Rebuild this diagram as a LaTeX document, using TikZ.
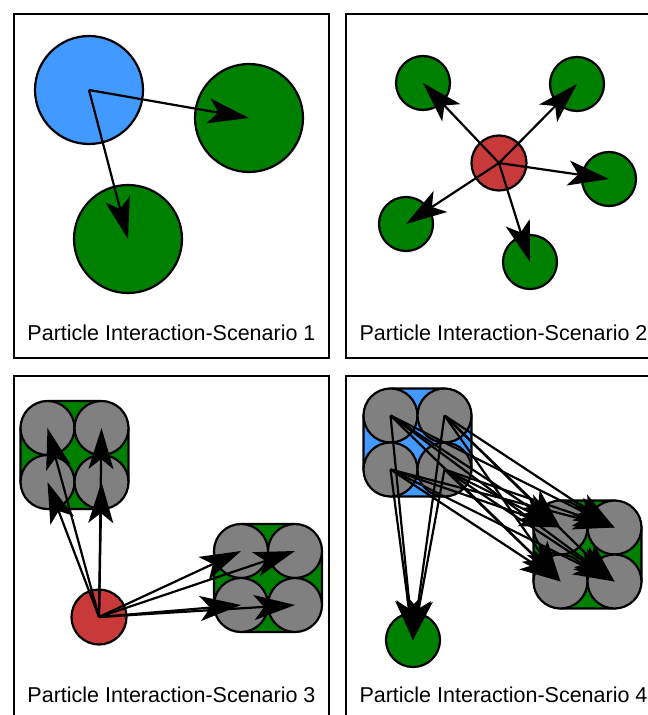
\documentclass[tikz,border=0pt]{standalone}
\usepackage{fontspec}
\setmainfont{Liberation Sans}
\usepackage{tikz}
\usetikzlibrary{arrows.meta}

\definecolor{pblue}{RGB}{66,153,255}
\definecolor{pgreen}{RGB}{0,128,0}
\definecolor{pred}{RGB}{200,58,58}
\definecolor{pgrey}{RGB}{128,128,128}

\tikzset{
  ball/.style={circle, draw, line width=2.2pt, inner sep=0pt},
  bigball/.style={ball, minimum size=108pt},
  smallball/.style={ball, minimum size=54pt},
  blob/.style={draw, line width=2.2pt, rounded corners=30pt, minimum size=108pt, inner sep=0pt},
  hit/.style={-{Stealth[length=41pt,width=25pt,inset=10pt]}, line width=2.2pt},
  frame/.style={line width=2.2pt},
  caption/.style={font=\fontsize{21.5}{25}\selectfont, anchor=base}
}

\begin{document}
\begin{tikzpicture}[x=1pt, y=-1pt]

\useasboundingbox (0,0) rectangle (648,715);
\clip (0,0) rectangle (648,715);

% panel frames
\draw[frame] (14,14) rectangle (329,358);
\draw[frame] (346,14) rectangle (661,358);
\draw[frame] (14,376) rectangle (329,720);
\draw[frame] (346,376) rectangle (661,720);

% scenario 1
\node[bigball, fill=pblue] (s1src) at (89,90) {};
\node[bigball, fill=pgreen] (s1a) at (249,118) {};
\node[bigball, fill=pgreen] (s1b) at (128,239) {};
\draw[hit] (s1src.center) -- (s1a.center);
\draw[hit] (s1src.center) -- (s1b.center);
\node[caption] (cap1) at (171.5,340) {Particle Interaction-Scenario 1};

% scenario 2
\node[ball, minimum size=55pt, fill=pred] (s2src) at (499,163) {};
\foreach \n/\x/\y in {a/423/83, b/577/84, c/609/179, d/530/262, e/406/224}
  \node[smallball, fill=pgreen] (s2\n) at (\x,\y) {};
\foreach \n in {a,b,c,d,e}
  \draw[hit] (s2src.center) -- (s2\n.center);
\node[caption] (cap2) at (503.5,340) {Particle Interaction-Scenario 2};

% scenario 3
\node[ball, minimum size=55pt, fill=pred] (s3src) at (99,617) {};
\node[blob, fill=pgreen] (s3top) at (74.5,455) {};
\node[blob, fill=pgreen] (s3right) at (268,578) {};
\foreach \g in {top,right}
  \foreach \n/\dx/\dy in {1/-27/-27, 2/27/-27, 3/-27/27, 4/27/27}
    \node[smallball, fill=pgrey] (s3\g\n) at ([shift={(\dx,\dy)}]s3\g.center) {};
\foreach \g in {top,right}
  \foreach \n in {1,2,3,4}
    \draw[hit] (s3src.center) -- (s3\g\n.center);
\node[caption] (cap3) at (171.5,702) {Particle Interaction-Scenario 3};

% scenario 4
\node[blob, fill=pblue] (s4src) at (417.5,442.5) {};
\node[blob, fill=pgreen] (s4dst) at (587.5,554.5) {};
\node[smallball, fill=pgreen] (s4one) at (413,640) {};
\foreach \g in {src,dst}
  \foreach \n/\dx/\dy in {1/-27/-27, 2/27/-27, 3/-27/27, 4/27/27}
    \node[smallball, fill=pgrey] (s4\g\n) at ([shift={(\dx,\dy)}]s4\g.center) {};
\foreach \i in {1,2,3,4}{
  \foreach \j in {1,2,3,4}
    \draw[hit] (s4src\i.center) -- (s4dst\j.center);
  \draw[hit] (s4src\i.center) -- (s4one.center);
}
\node[caption] (cap4) at (503.5,702) {Particle Interaction-Scenario 4};

\end{tikzpicture}
\end{document}
